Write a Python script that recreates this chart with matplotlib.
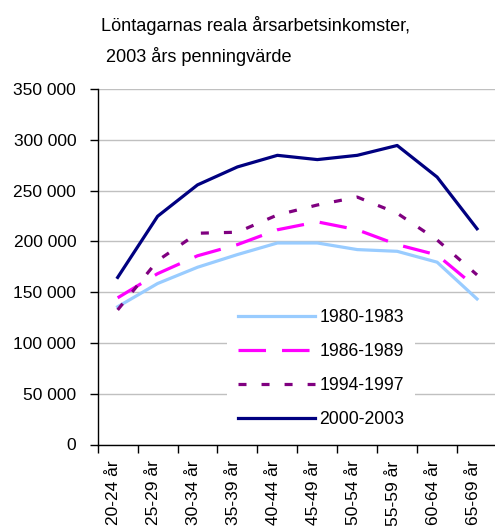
import numpy as np
import matplotlib
matplotlib.use("Agg")
import matplotlib.pyplot as plt
import matplotlib.transforms as mtransforms
from matplotlib.ticker import FuncFormatter, FixedLocator

plt.rcParams['font.family'] = ['Liberation Sans', 'DejaVu Sans']

# ---------------------------------------------------------------
# data
# ---------------------------------------------------------------
age_groups = ['20-24 år', '25-29 år', '30-34 år', '35-39 år', '40-44 år',
              '45-49 år', '50-54 år', '55-59 år', '60-64 år', '65-69 år']

inc_1980_1983 = [135600, 158500, 174500, 187000, 198400, 198400, 191900, 190200, 179500, 143300]
inc_1986_1989 = [144400, 168200, 185800, 196800, 211400, 219200, 211400, 196800, 186600, 154000]
inc_1994_1997 = [132500, 181000, 208000, 209000, 226000, 235800, 243600, 227700, 201400, 167000]
inc_2000_2003 = [164500, 224700, 255600, 273300, 284700, 280500, 284700, 294400, 263300, 212400]

series_labels = ['1980-1983', '1986-1989', '1994-1997', '2000-2003']
yticks = [0, 50000, 100000, 150000, 200000, 250000, 300000, 350000]

title_line1 = 'Löntagarnas reala årsarbetsinkomster,'
title_line2 = ' 2003 års penningvärde'

# ---------------------------------------------------------------
# figure
# ---------------------------------------------------------------
fig = plt.figure(figsize=(4.95, 5.26), dpi=100)
ax = fig.add_axes([97.7 / 495, 1 - 444.5 / 526, (497 - 97.7) / 495, (444.5 - 89) / 526])

x = np.arange(len(age_groups))
lw = 3.2 * 72 / 100  # ~3 px

ax.plot(x, inc_1980_1983, color='#99CCFF', lw=lw, label=series_labels[0], solid_joinstyle='round')
ax.plot(x, inc_1986_1989, color='#FF00FF', lw=lw, label=series_labels[1], dashes=(8.6, 5.0), dash_capstyle='butt')
ax.plot(x, inc_1994_1997, color='#800080', lw=lw, label=series_labels[2], dashes=(2.5, 4.7), dash_capstyle='butt')
ax.plot(x, inc_2000_2003, color='#000080', lw=lw, label=series_labels[3], solid_joinstyle='round')

ax.set_xlim(-0.5, len(age_groups) - 0.5)
ax.set_ylim(0, 350000)
ax.set_yticks(yticks)
ax.yaxis.set_major_formatter(FuncFormatter(lambda v, _: f'{int(v):,}'.replace(',', ' ')))
ax.yaxis.grid(True, color='#C0C0C0', linewidth=1.0)
ax.set_axisbelow(True)

# category boundary ticks, labels centred in each slot
ax.xaxis.set_major_locator(FixedLocator(np.arange(len(age_groups)) - 0.5))
ax.xaxis.set_major_formatter(FuncFormatter(lambda v, _: ''))
ax.xaxis.set_minor_locator(FixedLocator(x))
ax.set_xticklabels(age_groups, minor=True, rotation=90, va='top', ha='center')
ax.tick_params(axis='x', which='minor', length=0, pad=11.5, labelsize=12.5)
ax.tick_params(axis='x', which='major', length=5.5, width=1, direction='out', color='black')
ax.tick_params(axis='y', length=5.5, width=1, direction='out', labelsize=12.5, pad=10)

shift = mtransforms.ScaledTranslation(-4 / 100, 0, fig.dpi_scale_trans)
for lab in ax.get_xticklabels(minor=True):
    lab.set_transform(lab.get_transform() + shift)

for side in ['top', 'right']:
    ax.spines[side].set_visible(False)
ax.spines['left'].set_linewidth(1.0)
ax.spines['bottom'].set_linewidth(1.0)

leg = ax.legend(loc='upper left', bbox_to_anchor=(0.324, 0.41), frameon=True,
                fancybox=False, edgecolor='none', facecolor='white', framealpha=1,
                fontsize=12.7, handlelength=4.4, handletextpad=0.23,
                labelspacing=0.96, borderpad=0.6, borderaxespad=0)

fig.text(101 / 495, 1 - 31 / 526, title_line1, fontsize=13.1, ha='left', va='baseline')
fig.text(101 / 495, 1 - 62 / 526, title_line2, fontsize=13.1, ha='left', va='baseline')

fig.savefig('out.png', dpi=100)
